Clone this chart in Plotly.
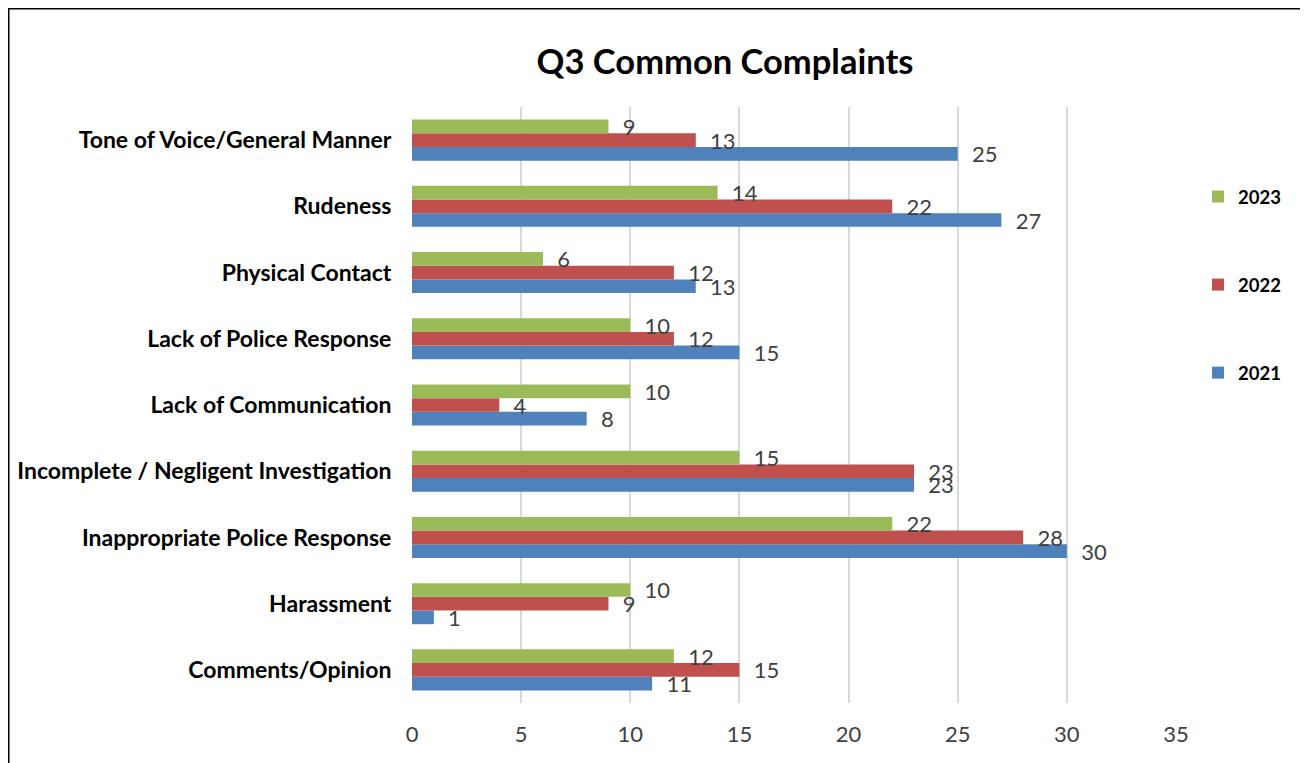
import plotly.graph_objects as go

categories = [
    "Comments/Opinion",
    "Harassment",
    "Inappropriate Police Response",
    "Incomplete / Negligent Investigation",
    "Lack of Communication",
    "Lack of Police Response",
    "Physical Contact",
    "Rudeness",
    "Tone of Voice/General Manner",
]
values_2021 = [11, 1, 30, 23, 8, 15, 13, 27, 25]
values_2022 = [15, 9, 28, 23, 4, 12, 12, 22, 13]
values_2023 = [12, 10, 22, 15, 10, 10, 6, 14, 9]
x_ticks = [0, 5, 10, 15, 20, 25, 30, 35]

FONT = "Lato"
series = [
    ("2021", values_2021, "#4F81BD", 3),
    ("2022", values_2022, "#C0504D", 2),
    ("2023", values_2023, "#9BBB59", 1),
]

fig = go.Figure()
for name, vals, color, rank in series:
    fig.add_trace(go.Bar(
        name=name, y=categories, x=vals, orientation="h",
        marker=dict(color=color, line=dict(width=0)),
        text=vals, texttemplate="\u00a0\u00a0%{x}", textposition="outside",
        constraintext="none", cliponaxis=False,
        textfont=dict(family=FONT, size=22, color="#404040"),
        legendgroup=name, legendrank=rank,
    ))

# figure coordinates (page has an 8px body margin)
W, H = 1300, 755
L, R, T, B = 404, 132, 99, 60
pw, ph = W - L - R, H - T - B

fig.update_layout(
    width=W, height=H,
    margin=dict(l=L, r=R, t=T, b=B, autoexpand=False),
    paper_bgcolor="white", plot_bgcolor="white",
    barmode="group", bargap=0.38, bargroupgap=0,
    title=dict(text="<b>Q3 Common Complaints</b>", x=717 / W, xref="container",
               xanchor="center", y=1 - 54 / H, yanchor="middle",
               font=dict(family=FONT, size=34.5, color="black")),
    font=dict(family=FONT),
    legend=dict(x=(1190 - L) / pw, xanchor="left", y=(H - B - 170) / ph, yanchor="top",
                traceorder="grouped", tracegroupgap=61,
                font=dict(family=FONT, size=18.5, color="black", weight="bold"),
                bgcolor="rgba(0,0,0,0)"),
    xaxis=dict(range=[0, 35], tickvals=x_ticks, showgrid=True, gridcolor="#D9D9D9",
               gridwidth=1.5, zeroline=False, showline=False, automargin=False,
               ticks="outside", ticklen=12, tickcolor="white",
               tickfont=dict(family=FONT, size=22, color="#404040")),
    yaxis=dict(showgrid=False, zeroline=False, showline=False, automargin=False,
               ticks="outside", ticklen=15, tickcolor="white",
               tickfont=dict(family=FONT, size=23, color="black", weight="bold")),
    shapes=[dict(type="rect", xref="paper", yref="paper",
                 x0=(0.5 - L) / pw, x1=(W + 20 - L) / pw,
                 y0=(H - B - (H + 20)) / ph, y1=(H - B - 0.5) / ph,
                 line=dict(color="black", width=2), fillcolor="rgba(0,0,0,0)", layer="below")],
)

fig.write_html("out.html")
